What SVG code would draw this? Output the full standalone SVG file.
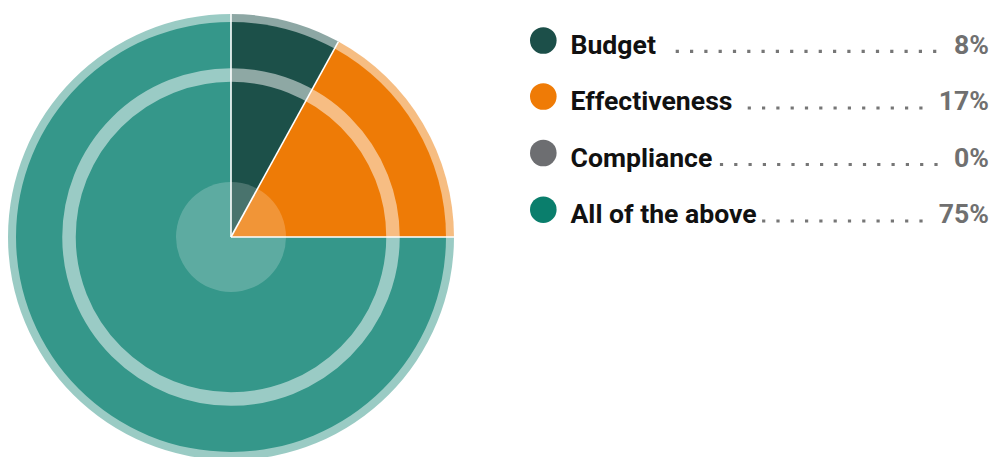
<svg xmlns="http://www.w3.org/2000/svg" width="993" height="457" viewBox="0 0 993 457">
  <style>
    .band { opacity: 0.5; }
    .sep { stroke: #ffffff; stroke-width: 1.6; fill: none; }
    .lbl { font-family: Roboto, "Liberation Sans", sans-serif; font-weight: 700; font-size: 26.6px; fill: #111111; }
    .pct { font-family: Roboto, "Liberation Sans", sans-serif; font-weight: 700; font-size: 26.6px; fill: #707070; text-anchor: end; }
    .lead { stroke: #767676; stroke-width: 3.2; stroke-dasharray: 3.2 11.1; fill: none; }
  </style>
  <rect width="993" height="457" fill="#ffffff"/>
  <g id="pie">
    <g id="slice-budget">
      <path class="band" fill="#1c5049" d="M231,237 L231,14 A223,223 0 0 1 338.4,41.6 Z"/>
      <path fill="#1c5049" d="M231,237 L231,22 A215,215 0 0 1 334.6,48.6 Z"/>
    </g>
    <g id="slice-effectiveness">
      <path class="band" fill="#ee7b06" d="M231,237 L338.4,41.6 A223,223 0 0 1 454,237 Z"/>
      <path fill="#ee7b06" d="M231,237 L334.6,48.6 A215,215 0 0 1 446,237 Z"/>
    </g>
    <g id="slice-all">
      <path class="band" fill="#35978a" d="M231,237 L454,237 A223,223 0 1 1 231,14 Z"/>
      <path fill="#35978a" d="M231,237 L446,237 A215,215 0 1 1 231,22 Z"/>
    </g>
    <circle id="inner-ring" cx="231" cy="237" r="162" fill="none" stroke="#ffffff" stroke-opacity="0.5" stroke-width="13.5"/>
    <circle id="hub" cx="231" cy="237" r="55" fill="#ffffff" fill-opacity="0.2"/>
    <g id="separators">
      <line class="sep" x1="231" y1="237" x2="231" y2="14"/>
      <line class="sep" x1="231" y1="237" x2="338.4" y2="41.6"/>
      <line class="sep" x1="231" y1="237" x2="454" y2="237"/>
    </g>
  </g>
  <g id="legend">
    <g id="legend-budget">
      <circle cx="543.3" cy="40.5" r="13.3" fill="#1c4f49"/>
      <text class="lbl" x="570.5" y="53.5">Budget</text>
      <line class="lead" x1="675.7" y1="51.3" x2="936.6" y2="51.3"/>
      <text class="pct" x="989" y="53.5">8%</text>
    </g>
    <g id="legend-effectiveness">
      <circle cx="543.3" cy="96.5" r="13.3" fill="#ef7b06"/>
      <text class="lbl" x="570.5" y="110">Effectiveness</text>
      <line class="lead" x1="747.7" y1="108" x2="922.6" y2="108"/>
      <text class="pct" x="989" y="110">17%</text>
    </g>
    <g id="legend-compliance">
      <circle cx="543.3" cy="153" r="13.3" fill="#6d6e71"/>
      <text class="lbl" x="570.5" y="166.5">Compliance</text>
      <line class="lead" x1="719.9" y1="164.5" x2="937.6" y2="164.5"/>
      <text class="pct" x="989" y="166.5">0%</text>
    </g>
    <g id="legend-all">
      <circle cx="543.3" cy="209.7" r="13.3" fill="#0a7e6c"/>
      <text class="lbl" x="570.5" y="223">All of the above</text>
      <line class="lead" x1="762.1" y1="221" x2="922.6" y2="221"/>
      <text class="pct" x="989" y="223">75%</text>
    </g>
  </g>
</svg>
